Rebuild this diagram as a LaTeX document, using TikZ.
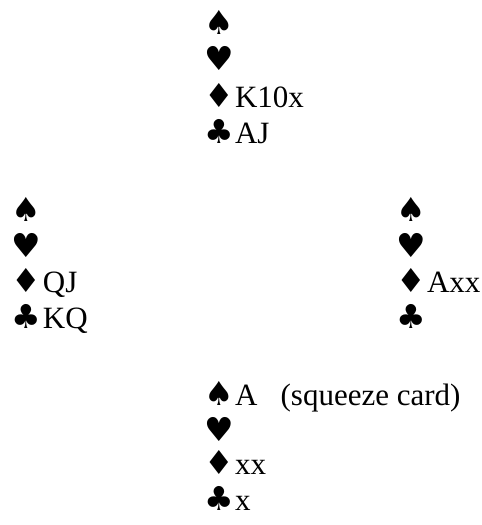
\documentclass[tikz,border=0pt]{standalone}
\usepackage{fontspec}
\setmainfont{Liberation Serif}
\newfontfamily\suitfont{DejaVu Sans}
\newcommand\suit[1]{\makebox[31pt][l]{\suitfont\fontsize{33}{33}\selectfont #1}}
\begin{document}
\begin{tikzpicture}[x=1pt,y=-1pt,
  cardline/.style={anchor=base west, inner sep=0pt, outer sep=0pt, font=\fontsize{31}{36}\selectfont}]
\useasboundingbox (0,0) rectangle (482,525);
% North
\node[cardline] (ns) at (204,34)  {\suit{♠}};
\node[cardline] (nh) at (204,70)  {\suit{♥}};
\node[cardline] (nd) at (204,107) {\suit{♦}K10x};
\node[cardline] (nc) at (204,143) {\suit{♣}AJ};
% West
\node[cardline] (ws) at (12,221) {\suit{♠}};
\node[cardline] (wh) at (12,257) {\suit{♥}};
\node[cardline] (wd) at (12,292) {\suit{♦}QJ};
\node[cardline] (wc) at (12,328) {\suit{♣}KQ};
% East
\node[cardline] (es) at (396,221) {\suit{♠}};
\node[cardline] (eh) at (396,257) {\suit{♥}};
\node[cardline] (ed) at (396,292) {\suit{♦}Axx};
\node[cardline] (ec) at (396,328) {\suit{♣}};
% South
\node[cardline] (ss) at (204,405) {\suit{♠}A~~~(squeeze card)};
\node[cardline] (sh) at (204,441) {\suit{♥}};
\node[cardline] (sd) at (204,474) {\suit{♦}xx};
\node[cardline] (sc) at (204,510) {\suit{♣}x};
\end{tikzpicture}
\end{document}
